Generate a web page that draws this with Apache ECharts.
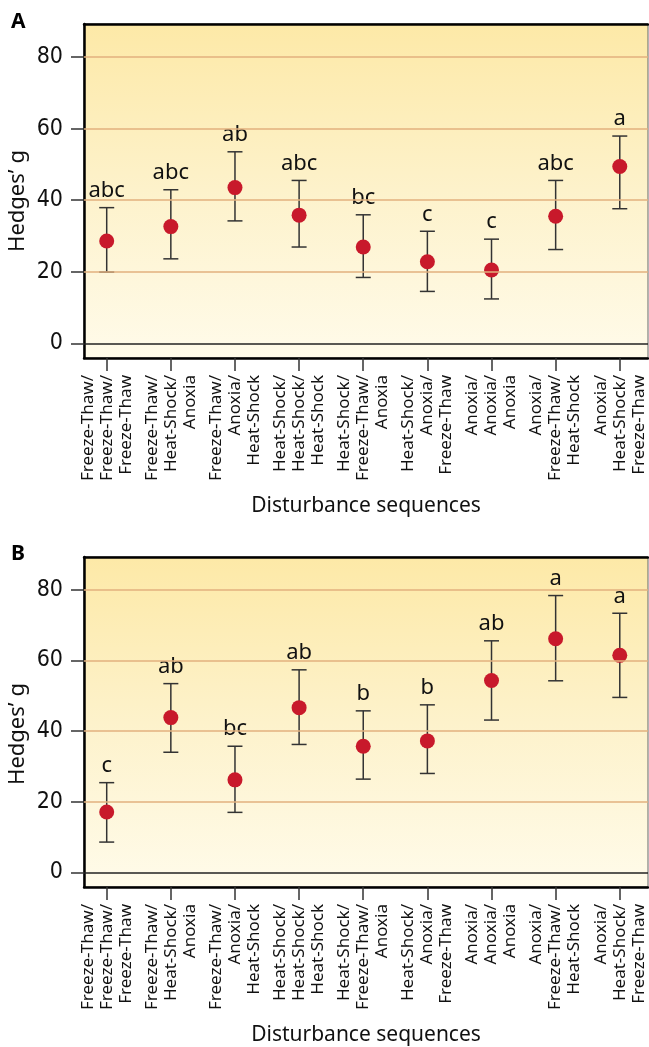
<!DOCTYPE html>
<html>
<head>
<meta charset="utf-8">
<script src="https://cdn.jsdelivr.net/npm/echarts@6/dist/echarts.min.js"></script>
<style>html,body{margin:0;padding:0;background:#fff;}#c{width:649px;height:1047px;}</style>
</head>
<body>
<div id="c"></div>
<script>
const categories = [
  'Freeze-Thaw/\nFreeze-Thaw/\nFreeze-Thaw',
  'Freeze-Thaw/\nHeat-Shock/\nAnoxia',
  'Freeze-Thaw/\nAnoxia/\nHeat-Shock',
  'Heat-Shock/\nHeat-Shock/\nHeat-Shock',
  'Heat-Shock/\nFreeze-Thaw/\nAnoxia',
  'Heat-Shock/\nAnoxia/\nFreeze-Thaw',
  'Anoxia/\nAnoxia/\nAnoxia',
  'Anoxia/\nFreeze-Thaw/\nHeat-Shock',
  'Anoxia/\nHeat-Shock/\nFreeze-Thaw'
];
const yTicks = [0, 20, 40, 60, 80];
const gridLineValues = [20, 40, 60, 80];

const meanA  = [28.6, 32.6, 43.5, 35.8, 26.9, 22.8, 20.5, 35.5, 49.4];
const upperA = [37.9, 42.9, 53.5, 45.5, 35.9, 31.3, 29.1, 45.5, 57.9];
const lowerA = [19.9, 23.6, 34.2, 26.9, 18.4, 14.5, 12.4, 26.2, 37.6];
const lettersA = ['abc', 'abc', 'ab', 'abc', 'bc', 'c', 'c', 'abc', 'a'];

const meanB  = [17.1, 43.8, 26.2, 46.6, 35.7, 37.2, 54.3, 66.1, 61.4];
const upperB = [25.4, 53.4, 35.7, 57.3, 45.7, 47.4, 65.5, 78.3, 73.3];
const lowerB = [8.6, 34.0, 17.0, 36.2, 26.4, 28.0, 43.1, 54.2, 49.5];
const lettersB = ['c', 'ab', 'bc', 'ab', 'b', 'b', 'ab', 'a', 'a'];

const xTickValues = categories.map((c, i) => i);
const narrow = '"Liberation Sans Narrow", "DejaVu Sans Condensed", "Noto Sans", sans-serif';
const sans = '"Noto Sans", "Open Sans", "DejaVu Sans", sans-serif';

const chart = echarts.init(document.getElementById('c'), null, {renderer: 'canvas'});

const grids = [
  {left: 84, top: 24, width: 564, height: 334},
  {left: 84, top: 557, width: 564, height: 334}
];
const bg = {
  type: 'linear', x: 0, y: 0, x2: 0, y2: 1,
  colorStops: [
    {offset: 0, color: '#fde9a7'},
    {offset: 0.5, color: '#fdf2cb'},
    {offset: 1, color: '#fffbea'}
  ]
};

function xAxisMain(gi) {
  return {
    type: 'value', gridIndex: gi, min: -0.354, max: 8.44, position: 'bottom',
    name: 'Disturbance sequences', nameLocation: 'middle', nameGap: 138,
    nameTextStyle: {fontFamily: sans, fontSize: 21, color: '#111'},
    axisLine: {show: true, onZero: false, lineStyle: {color: '#000', width: 2.5}},
    axisTick: {show: true, length: 13, customValues: xTickValues, lineStyle: {color: '#333', width: 1.5}},
    axisLabel: {
      show: true, customValues: xTickValues, rotate: 90, margin: 17,
      fontFamily: sans, fontSize: 17, lineHeight: 19, color: '#111',
      formatter: v => categories[Math.round(v)] || ''
    },
    splitLine: {show: false}
  };
}
function xAxisTop(gi) {
  return {
    type: 'value', gridIndex: gi, min: -0.354, max: 8.44, position: 'top',
    axisLine: {show: true, onZero: false, lineStyle: {color: '#000', width: 2.5}},
    axisTick: {show: false}, axisLabel: {show: false}, splitLine: {show: false}
  };
}
function yAxisMain(gi) {
  return {
    type: 'value', gridIndex: gi, min: -4.1, max: 89.2,
    axisLine: {show: true, onZero: false, lineStyle: {color: '#000', width: 2.5}},
    axisTick: {show: true, length: 13, customValues: yTicks, lineStyle: {color: '#333', width: 1.5}},
    axisLabel: {show: true, customValues: yTicks, margin: 21, fontFamily: narrow, fontSize: 23, color: '#111'},
    splitLine: {show: false}
  };
}

function errSeries(gi, mean, up, lo, letters) {
  return {
    type: 'custom', xAxisIndex: gi * 2, yAxisIndex: gi, z: 3,
    data: mean.map((m, i) => [i, lo[i], up[i], letters[i]]),
    renderItem: function (params, api) {
      const x = api.value(0);
      const pLo = api.coord([x, api.value(1)]);
      const pHi = api.coord([x, api.value(2)]);
      const cap = 7.5;
      const st = {stroke: '#333', lineWidth: 1.5};
      return {
        type: 'group',
        children: [
          {type: 'line', shape: {x1: pLo[0], y1: pLo[1], x2: pHi[0], y2: pHi[1]}, style: st},
          {type: 'line', shape: {x1: pHi[0] - cap, y1: pHi[1], x2: pHi[0] + cap, y2: pHi[1]}, style: st},
          {type: 'line', shape: {x1: pLo[0] - cap, y1: pLo[1], x2: pLo[0] + cap, y2: pLo[1]}, style: st},
          {type: 'text', x: pHi[0], y: pHi[1] - 6, style: {
            text: letters[params.dataIndex], fontFamily: sans, fontSize: 22, fill: '#111',
            align: 'center', verticalAlign: 'bottom'}}
        ]
      };
    }
  };
}
function pointSeries(gi, mean) {
  return {
    type: 'scatter', xAxisIndex: gi * 2, yAxisIndex: gi, z: 4,
    symbol: 'circle', symbolSize: 15,
    itemStyle: {color: '#c8192b', opacity: 1},
    data: mean.map((m, i) => [i, m])
  };
}
function lineSeries(gi) {
  return {
    type: 'line', xAxisIndex: gi * 2, yAxisIndex: gi, z: 1, data: [],
    markLine: {
      silent: true, symbol: 'none', label: {show: false}, animation: false,
      data: gridLineValues.map(v => ({yAxis: v, lineStyle: {color: '#e2b17e', width: 1.5, type: 'solid'}}))
        .concat([{yAxis: 0, lineStyle: {color: '#222', width: 1.5, type: 'solid'}}])
    }
  };
}

chart.setOption({
  animation: false,
  grid: grids.map(g => Object.assign({show: true, backgroundColor: bg, borderColor: '#666', borderWidth: 1}, g)),
  xAxis: [xAxisMain(0), xAxisTop(0), xAxisMain(1), xAxisTop(1)],
  yAxis: [yAxisMain(0), yAxisMain(1)],
  series: [
    lineSeries(0), errSeries(0, meanA, upperA, lowerA, lettersA), pointSeries(0, meanA),
    lineSeries(1), errSeries(1, meanB, upperB, lowerB, lettersB), pointSeries(1, meanB)
  ],
  graphic: [
    {type: 'text', left: 11, top: 12, style: {text: 'A', fontFamily: sans, fontWeight: 'bold', fontSize: 21, fill: '#000'}},
    {type: 'text', left: 11, top: 544, style: {text: 'B', fontFamily: sans, fontWeight: 'bold', fontSize: 21, fill: '#000'}},
    {type: 'text', x: 18, y: 201, rotation: Math.PI / 2, style: {text: 'Hedges\u2019 g', fontFamily: sans, fontSize: 22, fill: '#111', align: 'center', verticalAlign: 'middle'}},
    {type: 'text', x: 18, y: 734, rotation: Math.PI / 2, style: {text: 'Hedges\u2019 g', fontFamily: sans, fontSize: 22, fill: '#111', align: 'center', verticalAlign: 'middle'}}
  ]
});
</script>
</body>
</html>
